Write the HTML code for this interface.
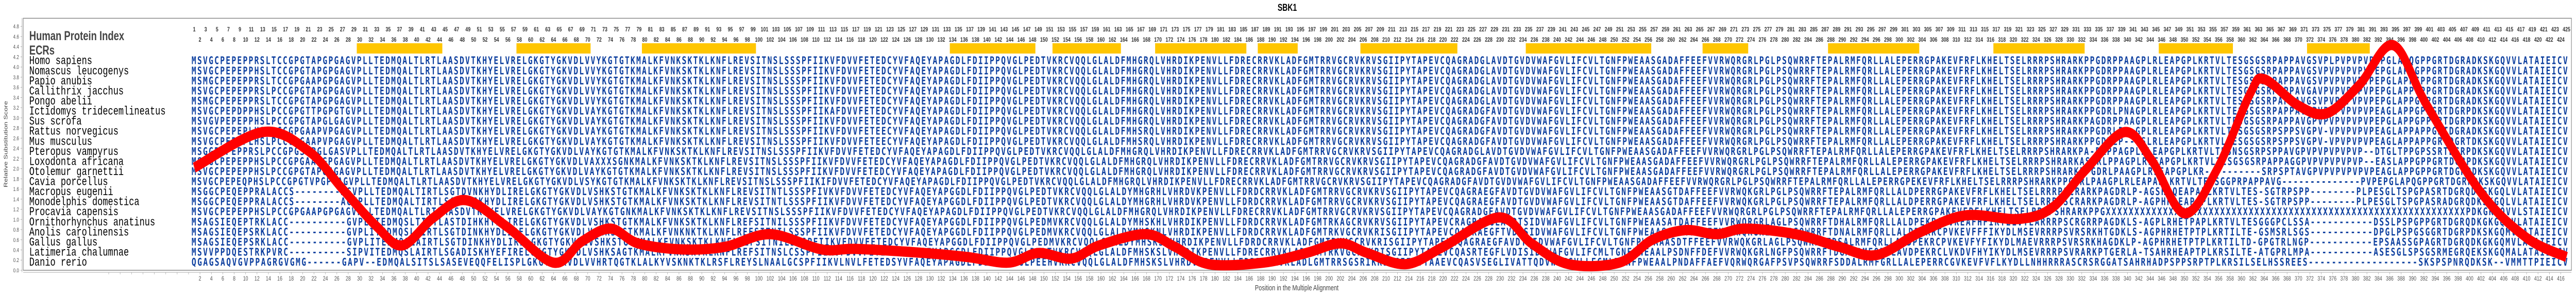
<!DOCTYPE html>
<html><head><meta charset="utf-8"><style>
html,body{margin:0;padding:0;background:#fff;width:100%;height:100%;overflow:hidden;}
svg{display:block;width:100vw;height:100vh;overflow:hidden;}
.seq{font-family:"DejaVu Sans Mono","Liberation Mono",monospace;font-weight:bold;font-size:20px;fill:#0d3f9f;}
.sp{font-family:"Liberation Mono","DejaVu Sans Mono",monospace;font-size:23px;fill:#000;}
.tl{font-family:"Liberation Sans",sans-serif;font-size:12px;font-weight:bold;fill:#333;text-anchor:middle;}
.bl{font-family:"Liberation Sans",sans-serif;font-size:12px;fill:#555;text-anchor:middle;}
.yl{font-family:"Liberation Sans",sans-serif;font-size:11px;fill:#555;text-anchor:end;}
</style></head><body>
<svg id="chart" viewBox="0 0 6776 575" preserveAspectRatio="none" xmlns="http://www.w3.org/2000/svg">
<text x="3386" y="21" font-family="Liberation Sans, sans-serif" font-weight="bold" font-size="19" text-anchor="middle">SBK1</text>
<rect x="61" y="35.5" width="6703" height="489.5" fill="none" stroke="#888" stroke-width="1.5"/>
<line x1="58" y1="35" x2="58" y2="529" stroke="#aaa" stroke-width="1"/>
<line x1="61" y1="529" x2="6764" y2="529" stroke="#aaa" stroke-width="1"/>
<g id="yticks"></g>
<g id="xticks"></g>
<g id="toplabels"></g>
<g id="ecrs"></g>
<text x="20" y="280" transform="rotate(-90 20 280)" font-family="Liberation Sans, sans-serif" font-size="14" fill="#444" text-anchor="middle">Relative Substitution Score</text>
<text x="3411" y="564" font-family="Liberation Sans, sans-serif" font-size="15" fill="#444" text-anchor="middle">Position in the Multiple Alignment</text>
<text x="77" y="78" font-family="Liberation Sans, sans-serif" font-weight="bold" font-size="25" fill="#444">Human Protein Index</text>
<text x="77" y="106" font-family="Liberation Sans, sans-serif" font-weight="bold" font-size="25" fill="#444">ECRs</text>
<g>
<text class="sp" x="77" y="124.7">Homo sapiens</text>
<text class="sp" x="77" y="144.3">Nomascus leucogenys</text>
<text class="sp" x="77" y="163.8">Papio anubis</text>
<text class="sp" x="77" y="183.4">Callithrix jacchus</text>
<text class="sp" x="77" y="203.0">Pongo abelii</text>
<text class="sp" x="77" y="222.6">Ictidomys tridecemlineatus</text>
<text class="sp" x="77" y="242.1">Sus scrofa</text>
<text class="sp" x="77" y="261.7">Rattus norvegicus</text>
<text class="sp" x="77" y="281.3">Mus musculus</text>
<text class="sp" x="77" y="300.8">Pteropus vampyrus</text>
<text class="sp" x="77" y="320.4">Loxodonta africana</text>
<text class="sp" x="77" y="340.0">Otolemur garnettii</text>
<text class="sp" x="77" y="359.5">Cavia porcellus</text>
<text class="sp" x="77" y="379.1">Macropus eugenii</text>
<text class="sp" x="77" y="398.7">Monodelphis domestica</text>
<text class="sp" x="77" y="418.2">Procavia capensis</text>
<text class="sp" x="77" y="437.8">Ornithorhynchus anatinus</text>
<text class="sp" x="77" y="457.4">Anolis carolinensis</text>
<text class="sp" x="77" y="476.9">Gallus gallus</text>
<text class="sp" x="77" y="496.5">Latimeria chalumnae</text>
<text class="sp" x="77" y="516.1">Danio rerio</text>
</g>
<g>
<text class="seq" x="504" y="124.7" textLength="6250" lengthAdjust="spacing">MSVGCPEPEPPRSLTCCGPGTAPGPGAGVPLLTEDMQALTLRTLAASDVTKHYELVRELGKGTYGKVDLVVYKGTGTKMALKFVNKSKTKLKNFLREVSITNSLSSSPFIIKVFDVVFETEDCYVFAQEYAPAGDLFDIIPPQVGLPEDTVKRCVQQLGLALDFMHGRQLVHRDIKPENVLLFDRECRRVKLADFGMTRRVGCRVKRVSGIIPYTAPEVCQAGRADGLAVDTGVDVWAFGVLIFCVLTGNFPWEAASGADAFFEEFVVRWQRGRLPGLPSQWRRFTEPALRMFQRLLALEPERRGPAKEVFRFLKHELTSELRRRPSHRARKPPGDRPPAAGPLRLEAPGPLKRTVLTESGSGSRPAPPAVGSVPLPVPVPVPEPGLAPQGPPGRTDGRADKSKGQVVLATAIEICV</text>
<text class="seq" x="504" y="144.3" textLength="6250" lengthAdjust="spacing">MSVGCPEPEPPHSLTCCGPGTAPGPGAGVPLLTEDMQALTLRTLAASDVTKHYELVRELGKGTYGKVDLVVYKGTGTKMALKFVNKSKTKLKNFLREVSITNSLSSSPFIIKVFDVVFETEDCYVFAQEYAPAGDLFDIIPPQVGLPEDTVKRCVQQLGLALDFMHGRQLVHRDIKPENVLLFDRECRRVKLADFGMTRRVGCRVKRVSGIIPYTAPEVCQAGRADGLAVDTGVDVWAFGVLIFCVLTGNFPWEAASGADAFFEEFVVRWQRGRLPGLPSQWRRFTEPALRMFQRLLALEPERRGPAKEVFRFLKHELTSELRRRPSHRARKPPGDRPPAAGPLRLEAPGPLKRTVLTESGSGSRPAPPAVGSVPVPVPVPVPEPGLAPPGPPGRTDGRADKSKGQVVLATAIEICV</text>
<text class="seq" x="504" y="163.8" textLength="6250" lengthAdjust="spacing">MSMGCPEPEPPRSLTCCGPGAAPGPGAGVPLLTEDMQALTLRTLAASDVTKHYELVRELGKGTYGKVDLVVYKGTGTKMALKFVNKSKTKLKNFLREVSITNSLSSSPFIIKVFDVVFETEDCYVFAQEYAPAGDLFDIIPPQVGLPEDTVKRCVQQLGLALDFMHGRQLVHRDIKPENVLLFDRECRRVKLADFGMTRRVGCRVKRVSGIIPYTAPEVCQAGRADGLAVDTGVDVWAFGVLIFCVLTGNFPWEAASGADAFFEEFVVRWQRGRLPGLPSQWRRFTEPALRMFQRLLALEPERRGPAKEVFRFLKHELTSELRRRPSHRARKPPGDRPPAAGPLRLEAPGPLKRTVLTESGSGSRPAPPAVGSVPVPVPVPVPEPGLAPPGPPGRTDGRADKSKGQVVLATAIEICV</text>
<text class="seq" x="504" y="183.4" textLength="6250" lengthAdjust="spacing">MSVGCPEPEPPRSLPCCGPGTAPGPGAGVPLLTEDMQALTLRTLAASDVTKHYELVRELGKGTYGKVDLVVYKGTGTKMALKFVNKSKTKLKNFLREVSITNSLSSSPFIIKVFDVVFETEDCYVFAQEYAPAGDLFDIIPPQVGLPEDTVKRCVQQLGLALDFMHGRQLVHRDIKPENVLLFDRECRRVKLADFGMTRRVGCRVKRVSGIIPYTAPEVCQAGRADGLAVDTGVDVWAFGVLIFCVLTGNFPWEAASGADAFFEEFVVRWQRGRLPGLPSQWRRFTEPALRMFQRLLALEPERRGPAKEVFRFLKHELTSELRRRPSHRARKPPGDRPPAAGPLRLEAPGPLKRTVLTESGSGSRPTPPAVGAVPVPVPVPVPEPGLAPPGPPGRTDGRADKSKGQVVLATAIEICV</text>
<text class="seq" x="504" y="203.0" textLength="6250" lengthAdjust="spacing">MSMGCPEPEPPRSLTCCGPGTAPGPGAGVPLLTEDMQALTLRTLAASDVTKHYELVRELGKGTYGKVDLVVYKGTGTKMALKFVNKSKTKLKNFLREVSITNSLSSSPFIIKVFDVVFETEDCYVFAQEYAPAGDLFDIIPPQVGLPEDTVKRCVQQLGLALDFMHGRQLVHRDIKPENVLLFDRECRRVKLADFGMTRRVGCRVKRVSGIIPYTAPEVCQAGRADGLAVDTGVDVWAFGVLIFCVLTGNFPWEAASGADAFFEEFVVRWQRGRLPGLPSQWRRFTEPALRMFQRLLALEPERRGPAKEVFRFLKHELTSELRRRPSHRARKPPGDRPPAAGPLRLEAPGPLKRTVLTESGSGSRPAPPAVGSVPVPVPVPVPEPGLAPPGPPGRTDGRADKSKGQVVLATAIEICV</text>
<text class="seq" x="504" y="222.6" textLength="6250" lengthAdjust="spacing">MSVGCPEPDPPHSLPCCGPGTTPGPGTGVPLLTEDMQALTLRTLAASDVTKHYELVRELGKGTYGKVDLVAYKGTGTKMALKFVNKSKTKLKNFLREVSITNSLSSSPFIIKAFDVVFETEDCYVFAQEYAPAGDLFDIIPPQVGLPEDTVKRCVQQLGLALDFMHGRQLVHRDIKPENVLLFDRECRRVKLADFGMTRRVGCRVKRVSGIIPYTAPEVCQAGRADGFAVDTGVDVWAFGVLIFCVLTGNFPWEAASGADAFFEEFVVRWQRGRLPGLPSQWRRFTEPALRMFQRLLALEPERRGPAKEVFRFLKHELTSELRRRPSHRARKPPGDRLPNAGPLRLEAPGPLKRTVLTESGSGSRPAPPAVGPVPVPVPVPVPEAGLAPPGPPGRTDGRPDKSKGQVVLATAIEICV</text>
<text class="seq" x="504" y="242.1" textLength="6250" lengthAdjust="spacing">MSVGVPEPEPPHSLPCCGPGTAPGLGAGVPLLTEDMQALTLRTLAASDVTKHYELVRELGKGTYGKVDLVAYKGTGTKMALKFVNKSKTKLKNFLREVSITNSLSSSPFIIKVFDVVFETEDCYVFAQEYAPAGDLFDIIPPQVGLPEDTVKRCVQQLGLALDFMHGRQLVHRDIKPENVLLFDRECRRVKLADFGMTRRVGCRVKRVSGIIPYTAPEVCQAGRADGFAVDTGVDVWAFGVLIFCVLTGNFPWEAASGADAFFEEFVVRWQRGRLPGLPSQWRRFTEPALRMFQRLLALEPERRGPAKEVFRFLKHELTSELRRRPSHRARKPAGDRPPAAGPLRLEAPGPLKRTVLTESGSGSRPAPPAVGPVPVPVPVPVPEPGLAPPGPPGRTDGRPDKSKGQVVLATAIEICV</text>
<text class="seq" x="504" y="261.7" textLength="6250" lengthAdjust="spacing">MSVGCPEPEPLHSLPCCGPGAAPVPGAGVPLLTEDMQALTLRTLAASDVTKHYELVRELGKGTYGKVDLVAYKGTGTKMALKFVNKSKTKLKNFLREVSITNSLSSSPFIIKVFDVVFETEECYVFAQEYAPAGDLFDIIPPQVGLPEDTVKRCVQQLGLALDFMHSRQLVHRDIKPENVLLFDRECRRVKLADFGMTRRVGCRVKRVSGIIPYTAPEVCQAGRADGFAVDTGVDVWAFGVLIFCVLTGNFPWEAASGADAFFEEFVVRWQRGRLPGLPSQWRRFTEPALRMFQRLLALEPERRGPAKEVFRFLKHELTSELRRRPSHRARKPPGDRLP--GPLRLEAPGPLKRTVLTESGSGSRPSPPSVGPV-VPVPVPVPEAGLAPPAPPGRTDGRADKSKGQVVLATAIEICV</text>
<text class="seq" x="504" y="281.3" textLength="6250" lengthAdjust="spacing">MSVGCPEPEPLHSLPCCGPGAAPVPGAGVPLLTEDMQALTLRTLAASDVTKHYELVRELGKGTYGKVDLVAYKGTGTKMALKFVNKSKTKLKNFLREVSITNSLSSSPFIIKVFDVVFETEECYVFAQEYAPAGDLFDIIPPQVGLPEDTVKRCVQQLGLALDFMHSRQLVHRDIKPENVLLFDRECRRVKLADFGMTRRVGCRVKRVSGIIPYTAPEVCQAGRADGFAVDTGVDVWAFGVLIFCVLTGNFPWEAASGADAFFEEFVVRWQRGRLPGLPSQWRRFTEPALRMFQRLLALEPERRGPAKEVFRFLKHELTSELRRRPSHRARKPPGDRLP--GSLRLEAPGPLKRTVLTESGSGSRPSPPSVGPV-VPVPVPVPEAGLAPPAPPGRTDGRTDKSKGQVVLATAIEICV</text>
<text class="seq" x="504" y="300.8" textLength="6250" lengthAdjust="spacing">MSGGPEPEPPRSLPCCGPGSAPGLGASVPLLTEDMQALTLRTLAASDVTKHYELVRELGKGTYGKVDLVAYKGTGTKMALKFVNKSKTKLKNFLREVSITNSLSSSPFIIKVFDVVFETEDCYVFAQEYAPAGDLFDIIPPQVGLPEDTVKRCVQQLGLALDFMHGRQLVHRDIKPENVLLFDRECRRVKLADFGMTRRVGCRVKRVSGIIPYTAPEVCQAGRADGLAVDTGVDVWAFGVLIFCVLTGNFPWEAASGADAFFEEFVVRWQRGRLPGLPSQWRRFTEPALRMFQRLLALEPERRGPAKEVFRFLKHELTSELRRRPSHRARKPA-DRPPAGPLRLEAPGPLKRTVLTESNSGSRPSPPAVGPVPVPVPVPVP--DTGLTPPGPSSRTDGRPDKSKGQVVLATAIEICV</text>
<text class="seq" x="504" y="320.4" textLength="6250" lengthAdjust="spacing">MSVGCPEPEPPHSLPCCGPGAAPGPGAGVPLLTEDMQALTLRTLAASDVTKHYELVRELGKGTYGKVDLVAXXXSGNKMALKFVNKSKTKLKNFLREVSITNSLSSSPFIIKVFDVVFETEDCYVFAQEYAPAGDLFDIIPPQVGLPEDTVKRCVQQLGLALDFMHGRQLVHRDIKPENVLLFDRECRRVKLADFGMTRRVGCRVKRVSGIIPYTAPEVCQAGRADGFAVDTGVDVWAFGVLIFCVLTGNFPWEAASGADAFFEEFVVRWQRGRLPGLPSQWRRFTEPALRMFQRLLALEPERRGPAKEVFRFLKHELTSELRRRPSHRARKASDRLPPAGPLRLEAPGPLKRTVLTESGSGSRPAPPAGGPVPVPVPVPVP--EASLAPPGPPGRTDGRPDKSKGQVVLATAIEICV</text>
<text class="seq" x="504" y="340.0" textLength="6250" lengthAdjust="spacing">MSVGCPEPEPPHSLPCCGPGTAPGSGAGVPLLTEDMQALTLRTLAASDVTKHYELVRELGKGTYGKVDLVAYKGTGTKMALKFVNKSKTKLKNFLREVSITNSLSSSPFIIKVFDVVFETEDCYVFAQEYAPAGDLFDIIPPQVGLPEDTVKRCVQQLGLALDFMHGRQLVHRDIKPENVLLFDRECRRVKLADFGMTRRVGCRVKRVSGIIPYTAPEVCQAGRADGFAVDTGVDVWAFGVLIFCVLTGNFPWEAASGADAFFEEFVVRWQRGRLPGLPSQWRRFTEPALRMFQRLLALEPERRGPAKEVFRFLKHELTSELRRRPSHRARKPPGDRLPAAGPLRLEAPGPLKR----------SRPSPTAVGPVPVPVPVPVPEAGLAPPGPPGRTDGRPDKSKGQVVLATAIEICV</text>
<text class="seq" x="504" y="359.5" textLength="6250" lengthAdjust="spacing">MSVGCPEPEQPHSLPCCGPGTVPGPGAGVPLLTEDMQALTLRTLAASDVTKHYELVRELGKGTYGKVDLVSYKGTGTKMALKFVNKSKTKLKNFLREVSITNSLSSSPFIIKIFDVVFETEDCYVFAQEYAPAGDLFDIIPPQVGLPEDTVKRCVQQLGLALDFMHGRQLVHRDIKPENVLLFDRECRRVKLADFGMTRRVGCRVKRVSGIIPYTAPEVCQAGRADGFAVDTGVDVWAFGVLIFCVLTGNFPWEAASGADAFFEEFVVRWQRGRLPGLPSQWRRFTEPALRMFQRLLALEPERRGPEKEVFRFLKHELTSELRRRPSHRARKPPGDRLPAAGPLRLEAPAPLKRTVLTESSGGPRPAPPAVG--------------PVPEPGLAPQGPPGRTDGRPDKSKGQVVLATAIEICV</text>
<text class="seq" x="504" y="379.1" textLength="6250" lengthAdjust="spacing">MSGGCPEQEPPRALACCS--------AGVPLLTEDMQALTIRTLSGTDVNKHYDLIRELGKGTYGKVDLVSHKSTGTKMALKFVNKSKTKLKNFLREVSITNTLSSSPFIVKVFDVVFETEDCYVFAQEYAPGGDLFDIIPPQVGLPEDTVKRCVQQLGLALDYMHGRHLVHRDVKPENVLLFDRDCRRVKLADFGMTRRVGCRVKRVSGIIPYTAPEVCQAGRAEGFAVDTGVDVWAFGVLIFCVLTGNFPWEAASGTDAFFEEFVVRWQKGRLPGLPSQWRRFTEPALRMFQRLLALDPERRGPAKEVFRFLKHELTSELRRRPSCRARKPAGDRLP-AGSHRQEAPAPLKRTVLTES-SGTRPSPP--------PLPESGLTSPGPASRTDGRQDKSKGQLVLATAIEICV</text>
<text class="seq" x="504" y="398.7" textLength="6250" lengthAdjust="spacing">MSGGCPEQEPPRALACCS--------AGVPLLTEDMQALTIRTLSGTDVSKHYDLIRELGKGTYGKVDLVSHKSTGTKMALKFVNKSKTKLKNFLREVSITNTLSSSPFIIKVFDVVFETEDCYVFAQEYAPGGDLFDIIPPQVGLPEDTVKRCVQQLGLALDYMHGRHLVHRDVKPENVLLFDRDCRRVKLADFGMTRRVGCRVKRVSGIIPYTAPEVCQAGRAEGFAVDTGVDVWAFGVLIFCVLTGNFPWEAASGTDAFFEEFVVRWQKGRLPGLPSQWRRFTEPALRMFQRLLALDPERRGPAKEVFRFLKHELTSELRRRPSCRARKPAGDRLP-AGPHRQEAPAPLKRTVLTES-SGTRPSPP--------PLPESGLTSPGPASRADGRQDKSKGQLVLATAIEICV</text>
<text class="seq" x="504" y="418.2" textLength="6250" lengthAdjust="spacing">MSVGCPEPEPPHSLPCCGPGAAPGPGAGVPLLTEDMQALTLRTLAASDVTKHYELVRELGKGTYGKVDLVAYKGTGNKMALKFVNKSKTKLKNFLREVSITNSLSSSPFIIKVFDVVFETEDCYVFAQEYAPAGDLFDIIPPQVGLPEDTVKRCVQQLGLALDFMHGRQLVHRDIKPENVLLFDRECRRVKLADFGMTRRVGCRVKRVSGIIPYTAPEVCQAGRADGFAVDTGVDVWAFGVLIFCVLTGNFPWEAASGADAFFEEFVVRWQRGRLPGLPSQWRRFTEPALRMFQRLLALEPERRGPAKEVFRFLKHELTSELRRRPSHRARKPPGXXXXXXXXXXXXXXXXXXXXXXXXXXXXXXXXXXXXXXXXXXXXXXXXXXXXXXXXXXXXXXXPDKGKGQVVLSTAIEICV</text>
<text class="seq" x="504" y="437.8" textLength="6250" lengthAdjust="spacing">MSAGSIEQEPTRKLACC----------GVPLLTEDMQSLTIRTLASTDIHKHYDLIRELGKGTYGKVDLVSHKSTGTKMALKFVNKSKTKLKNFLREFSITNILSSSPFIIKVFDVVFETEDCYVFAQEYAPGGDLFDIIPPQVGLPEDMVKRCVQQLGLALDYMHSKHLVHRDIKPENVLLFDRDCRRVKLADFGMTRKAGCRVKRVSGIIPYTAPEVCRAGRAEGLAVDTSIDVWAFGVLIFCVLTGNFPWEAASATDAFFEEFVVRWQRGRLAGLPSQWRRFTDHALRMFQRLLALDPEKRCPVKEAFHFIKYELVTEARRRPSCRGRRPAGDKLS-AGPLRHETPAPLKRTVLTESGGGPCLSSA-----------DSSLPSPGPPGRTDGRQDKGKGQMVLATAIEICV</text>
<text class="seq" x="504" y="457.4" textLength="6250" lengthAdjust="spacing">MSAGSIEQEPSRKLACC----------GVPLITEDMQSLAIRTLSGTDINKHYDLIRELGKGTYGKVDLVSHKSTGTKMALKFVNKNKTKLKNFLREFSITNILSSSPFIIKVFDVVFETEDCYVFAQEYAPGGDLFDIIPPQVGLPEDMVKRCVQQLGLALDYMHSKNLVHRDIKPENVLLFDRDCRRVKLADFGMTRKVGCRVKRISGIIPYTAPEVCQAGRAEGFTVDTSIDVWAFGVLIFCVLTGNFPWEAASASDTFFEEFVVRWQRGRLAGLPSQWRRFTDNALRMFQRLLALDPEKRCPVKEVFFFIKYDLMSEVRRRPSVRSRKHTGDKLS-AGPHRHETPTPLKRTILTE-GSMSRLSGS-----------DPGLPSPGSGGRTDGRPDKSKGQMVLATAIEICV</text>
<text class="seq" x="504" y="476.9" textLength="6250" lengthAdjust="spacing">MSAGSIEQEPSRKLACC----------GVPLITEDMQSLAIRTLSGTDINKHYDLIRELGKGTYGKVDLVSHKSTGTKMALKFVNKSKTKLKNFLREFSITNILSSSPFIIKVFDVVFETEDCYVFAQEYAPGGDLFDIIPPQVGLPEDMVKRCVQQLGLALDYMHSKSLVHRDIKPENVLLFDRDCRRVKLADFGMTRKVGCRVKRISGIIPYTAPEVCQAGRAEGFAVDTSIDVWAFGVLIFCVLTGNFPWEAAASDTFFEEFVVRWQKGRLAGLPSQWRRFTDSALRMFQRLLALDPEKRCPVKEVFYFIKYDLMAEVRRRPSVRSRKHAGDKLP-AGPHRHETPTPLKRTILTD-GPGTRLNGP-----------EPSAASSGPAGRTDGRQDKGKGQMVLATAIEICV</text>
<text class="seq" x="504" y="496.5" textLength="6250" lengthAdjust="spacing">MSVVPPDQESTRKPVRC----------SIPVITEDMQSLAIRTLSGADISKHYEFIRELGKGTYGKVDLVSHKSAGTKMALKFVNKSKTKLKNFLREFSITNSLCSSPFIIKVFDVVFETEDCYVFAQEYAPGGDLFDIIPPQVGLPEDTVKRCVQQLGLALDFMHSKSLVHRDIKPENVLLFDRECRRVKLADFGMTRKVGCRVKRISGIIPYTAPEVCQASRTEGFLVDISIDVWAFGVLIFCMLTGNFPWEAALPSDNFFDEFVVRWQKGRLNGFPSQWRRFTDGALRMFQRLLAVDPEKRCLVKDVFHYIKYDLMSEVRRRPSVRARKPTGERLA-TSAHRHEAPTPLKRSILTE-ATGPRLMPA-----------ASESGLSPSGSRMEGRQEKSKGQMALATAIEICV</text>
<text class="seq" x="504" y="516.1" textLength="6250" lengthAdjust="spacing">QGAGSAQVGVPPAGRGVGMG------GAPV--EDMQALSITSLSASEVEQQFELISPLGKGTYGKVDLVVHRTQGTKLALKYVSKNKTKLRSFLREYSLNAALGCSPFIIKVLNVLFETEDSYVFAQEYAPAGDLFDIIPPQAGLPEEHVKRCVQQLGLALDFMHSKSLVHRDVKPENVLLFDRECRRVKLADLGMTRRSGSRIKRISGIIPYTAAEVCQASVSEGLIVATTQDVWAFGVLLFCMLTGNFPWEAALPNDAFFAEFVQRWQRGAFPSVPSQWRRFSDDALRMFGRLLALEPERRCGVKEVFVFLKYDLLNHHRRRASCRSRGGATSAHRHADPSPPSRPTPLKRSILSELHSSREES-------------------SKSPSPNRQDKSK--VMMTTPIEICV</text>
</g>
<path id="curve" fill="none" stroke="#ff0000" stroke-width="20" stroke-linejoin="round" stroke-linecap="butt"/>
</svg>
<script>
// Data: alignment positions and relative substitution scores
const curvePositions = [1,13,21,27,33,37.5,43,48.6,55.8,64,69,74,78.8,86.5,94,102,111,117,129,136.6,143.8,149,154.8,159.7,167.8,173,178.9,188.5,196,202,206.7,213.5,220,229.8,235.5,242,250.9,256.7,262.5,268,273,281.8,289.5,296,303.7,311.6,321,326.9,332.7,339.5,344.3,350,355.7,361.5,364,370,375,380.7,386.6,392.4,402,410,417];
const curveScores = [2.02,2.72,2.35,1.60,0.86,0.49,1.04,1.38,0.86,0.15,0.57,0.82,0.53,0.41,0.46,0.71,0.41,0.42,0.34,0.26,0.15,0.34,0.23,0.49,0.71,0.46,0.12,0.15,0.34,0.53,0.34,0.12,0.46,1.04,0.53,0.12,0.15,0.60,0.79,0.71,0.82,0.71,0.46,0.30,0.75,1.08,1.01,1.24,1.98,2.72,2.16,1.12,1.98,3.47,3.76,3.24,3.09,3.65,4.43,3.27,1.53,0.64,0.26];
const ecrStarts = [30,58,80,134,152,170,188,206,235,266,288,317,346,372];
const ecrEnds = [44,70,99,148,163,185,194,222,256,273,303,332,358,382];
const yTickValues = [0,0.2,0.4,0.6,0.8,1.0,1.2,1.4,1.6,1.8,2.0,2.2,2.4,2.6,2.8,3.0,3.2,3.4,3.6,3.8,4.0,4.2,4.4,4.6,4.8];
const numColumns = 417;
const humanGapAfter = 382;
const humanGapSize = 8;

const NS = "http://www.w3.org/2000/svg";
function xScale(c){ return 511 + (c-1)*15; }
function yScale(v){ return 525 - v*98.7; }
function mk(tag, attrs, parent){ const e=document.createElementNS(NS,tag); for(const k in attrs) e.setAttribute(k,attrs[k]); parent.appendChild(e); return e; }

const yg=document.getElementById('yticks');
yTickValues.forEach(v=>{
  const y=yScale(v);
  const l=mk('line',{x1:54,y1:y,x2:58,y2:y,stroke:'#aaa'},yg);
  
  
  const t=mk('text',{x:50,y:y+4,class:'yl'},yg);
  
  
  t.textContent=v.toFixed(1);
});
const xg=document.getElementById('xticks');
for(let c=-14;c<=numColumns;c+=2){
  const x=xScale(c);
  if(x<61||x>6764) continue;
  const l=mk('line',{x1:x,y1:529,x2:x,y2:533,stroke:'#aaa'},xg);
  
  
  if(c>=1){
    const t=mk('text',{x:x,y:545,class:'bl'},xg);
    
    
    t.textContent=String(c);
  }
}
const tg=document.getElementById('toplabels');
for(let c=1;c<=numColumns;c++){
  const idx = c<=humanGapAfter ? c : c+humanGapSize;
  const t=mk('text',{x:xScale(c),y:(idx%2===1)?61:81,class:'tl'},tg);
  
  
  t.textContent=String(idx);
}
const eg=document.getElementById('ecrs');
ecrStarts.forEach((s,i)=>{
  const x0=xScale(s)-7.5, x1=xScale(ecrEnds[i])+7.5;
  const r=mk('rect',{x:x0,y:84,width:x1-x0,height:20,fill:'#ffc600'},eg);
  
  
});
const pts=curvePositions.map((c,i)=>[xScale(c),yScale(curveScores[i])]);
let d='M'+pts[0][0]+','+pts[0][1];
for(let i=0;i<pts.length-1;i++){
  const p0=pts[i-1]||pts[i], p1=pts[i], p2=pts[i+1], p3=pts[i+2]||p2;
  const c1x=p1[0]+(p2[0]-p0[0])/6, c1y=p1[1]+(p2[1]-p0[1])/6;
  const c2x=p2[0]-(p3[0]-p1[0])/6, c2y=p2[1]-(p3[1]-p1[1])/6;
  d+=' C'+c1x+','+c1y+' '+c2x+','+c2y+' '+p2[0]+','+p2[1];
}
document.getElementById('curve').setAttribute('d',d);
</script>
</body></html>
